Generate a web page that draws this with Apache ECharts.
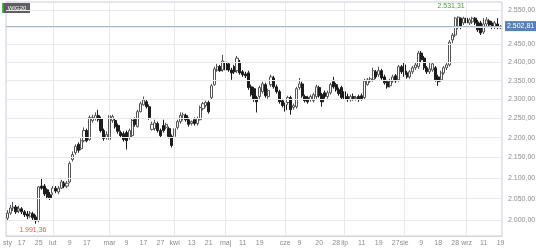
<!DOCTYPE html>
<html>
<head>
<meta charset="utf-8">
<script src="https://cdn.jsdelivr.net/npm/echarts@6/dist/echarts.min.js"></script>
<style>
html,body{margin:0;padding:0;background:#fff;}
#c{width:536px;height:248px;}
</style>
</head>
<body>
<div id="c"></div>
<script>
// Trading days (2023) per month
const jan = [10,11,12,13,16,17,18,19,20,23,24,25,26,27,30,31];
const feb = [1,2,3,6,7,8,9,10,13,14,15,16,17,20,21,22,23,24,27,28];
const mar = [1,2,3,6,7,8,9,10,13,14,15,16,17,20,21,22,23,24,27,28,29,30,31];
const apr = [3,4,5,6,11,12,13,14,17,18,19,20,21,24,25,26,27,28];
const may = [2,4,5,8,9,10,11,12,15,16,17,18,19,22,23,24,25,26,29,30,31];
const jun = [1,2,5,6,7,9,12,13,14,15,16,19,20,21,22,23,26,27,28,29,30];
const jul = [3,4,5,6,7,10,11,12,13,14,17,18,19,20,21,24,25,26,27,28,31];
const aug = [1,2,3,4,7,8,9,10,11,14,16,17,18,21,22,23,24,25,28,29,30,31];
const sep = [1,4,5,6,7,8,11,12,13,14,15,18,19];
const pad = n => (n < 10 ? '0' : '') + n;
const categories = [].concat(
  jan.map(d => '2023-01-' + pad(d)), feb.map(d => '2023-02-' + pad(d)),
  mar.map(d => '2023-03-' + pad(d)), apr.map(d => '2023-04-' + pad(d)),
  may.map(d => '2023-05-' + pad(d)), jun.map(d => '2023-06-' + pad(d)),
  jul.map(d => '2023-07-' + pad(d)), aug.map(d => '2023-08-' + pad(d)),
  sep.map(d => '2023-09-' + pad(d)));

const tickLabels = {
  '2023-01-10':'sty','2023-01-17':'17','2023-01-25':'25',
  '2023-02-01':'lut','2023-02-09':'9','2023-02-17':'17',
  '2023-03-01':'mar','2023-03-09':'9','2023-03-17':'17','2023-03-27':'27',
  '2023-04-03':'kwi','2023-04-13':'13','2023-04-21':'21',
  '2023-05-02':'maj','2023-05-11':'11','2023-05-19':'19',
  '2023-06-01':'cze','2023-06-09':'9','2023-06-20':'20','2023-06-28':'28',
  '2023-07-03':'lip','2023-07-11':'11','2023-07-19':'19','2023-07-27':'27',
  '2023-08-01':'sie','2023-08-09':'9','2023-08-18':'18','2023-08-28':'28',
  '2023-09-01':'wrz','2023-09-11':'11','2023-09-19':'19'
};
const monthStarts = ['2023-02-01','2023-03-01','2023-04-03','2023-05-02','2023-06-01','2023-07-03','2023-08-01','2023-09-01'];
const yTicks = [2000,2050,2100,2150,2200,2250,2300,2350,2400,2450,2500,2550];

const opens = [2004,2016,2028,2030,2021,2026,2019,2014,2009,2014,2007,1998,2080,2080,2071,2059,2063,2075,2066,2075,
2087,2080,2090,2145,2162,2183,2172,2192,2218,2195,2244,2249,2257,2249,2218,2200,2195,2244,2244,2231,
2213,2210,2213,2200,2205,2246,2228,2267,2285,2293,2280,2221,2223,2236,2218,2231,2226,2223,2203,2203,
2226,2241,2249,2257,2246,2236,2246,2236,2246,2275,2283,2291,2304,2339,2379,2388,2379,2401,2396,2379,
2388,2377,2401,2374,2368,2371,2333,2328,2304,2307,2320,2339,2307,2339,2357,2333,2320,2296,2285,2291,
2304,2278,2280,2331,2341,2307,2304,2299,2296,2307,2331,2312,2317,2307,2317,2347,2339,2325,2331,2320,
2307,2299,2307,2301,2307,2309,2304,2339,2349,2352,2374,2366,2377,2360,2347,2336,2349,2363,2352,2388,
2393,2371,2360,2374,2385,2388,2426,2412,2385,2374,2379,2385,2360,2352,2371,2385,2393,2463,2477,2500,
2526,2512,2526,2512,2515,2526,2515,2512,2486,2509,2518,2512,2500,2509,2498];
const closes = [2016,2028,2030,2019,2026,2019,2012,2009,2016,2005,1998,2078,2075,2061,2054,2052,2075,2068,2075,2090,
2080,2087,2135,2157,2178,2168,2192,2218,2192,2252,2252,2257,2246,2218,2198,2208,2257,2254,2228,2216,
2205,2195,2192,2218,2244,2234,2267,2288,2298,2280,2252,2234,2238,2218,2205,2218,2234,2203,2180,2223,
2241,2257,2259,2246,2234,2241,2236,2249,2278,2288,2291,2267,2336,2382,2388,2377,2404,2379,2379,2371,
2374,2412,2371,2366,2363,2331,2312,2299,2293,2331,2341,2309,2323,2360,2333,2320,2293,2283,2272,2304,
2272,2283,2328,2341,2309,2296,2293,2307,2312,2333,2309,2293,2307,2317,2339,2333,2325,2315,2304,2299,
2299,2307,2301,2304,2299,2301,2349,2352,2355,2377,2360,2377,2357,2344,2333,2349,2360,2349,2388,2374,
2366,2360,2374,2385,2393,2426,2407,2385,2374,2382,2396,2352,2347,2371,2385,2393,2457,2477,2526,2529,
2503,2526,2512,2521,2526,2512,2492,2483,2509,2521,2506,2500,2512,2500,2502.81];
const lows = [1998,2012,2021,2014,2016,2014,2007,2002,2005,2000,1991.36,1995,2071,2056,2049,2047,2059,2063,2061,2073,
2075,2075,2087,2140,2157,2162,2168,2188,2188,2192,2238,2244,2241,2213,2192,2195,2192,2238,2223,2210,
2200,2190,2170,2195,2200,2228,2226,2265,2283,2275,2246,2218,2218,2213,2200,2213,2221,2198,2175,2198,
2221,2236,2244,2241,2228,2231,2231,2231,2244,2270,2278,2262,2298,2336,2374,2374,2374,2374,2374,2352,
2368,2371,2366,2360,2357,2325,2307,2293,2265,2301,2315,2304,2301,2333,2328,2315,2288,2278,2267,2285,
2259,2272,2275,2325,2304,2291,2288,2293,2291,2301,2304,2280,2301,2301,2312,2328,2320,2309,2299,2293,
2293,2293,2296,2296,2293,2296,2299,2336,2344,2347,2355,2360,2352,2339,2328,2331,2344,2344,2347,2368,
2360,2355,2355,2368,2379,2382,2401,2379,2368,2368,2374,2347,2336,2347,2366,2379,2388,2454,2471,2494,
2494,2506,2506,2506,2509,2506,2486,2477,2480,2503,2500,2494,2494,2494,2494];
const highs = [2023,2035,2042,2035,2033,2030,2023,2021,2021,2019,2012,2080,2100,2085,2075,2066,2080,2080,2080,2095,
2092,2092,2140,2165,2183,2188,2198,2226,2223,2257,2259,2265,2272,2254,2223,2216,2267,2259,2249,2236,
2218,2216,2218,2223,2249,2252,2272,2293,2307,2299,2286,2241,2246,2241,2223,2246,2238,2228,2208,2228,
2246,2265,2265,2262,2252,2244,2252,2254,2283,2293,2296,2296,2341,2388,2396,2393,2421,2407,2401,2385,
2393,2418,2407,2379,2374,2377,2339,2333,2309,2336,2347,2344,2328,2366,2363,2339,2325,2301,2291,2309,
2309,2288,2333,2357,2347,2312,2309,2312,2317,2339,2336,2317,2323,2323,2344,2360,2344,2331,2336,2325,
2315,2312,2315,2309,2312,2315,2355,2357,2360,2385,2379,2388,2382,2366,2352,2355,2366,2368,2393,2393,
2399,2377,2379,2390,2399,2432,2432,2418,2390,2401,2401,2390,2366,2377,2390,2399,2463,2483,2529,2531.31,
2528,2530,2529,2526,2530,2529,2521,2518,2526,2529,2523,2518,2518,2526,2506];

function fmt(v) {
  const parts = v.toFixed(2).split('.');
  const intPart = parts[0].replace(/\B(?=(\d{3})+(?!\d))/g, '.');
  return intPart + ',' + parts[1];
}

const candles = opens.map((o, i) => [o, closes[i], lows[i], highs[i]]);
const maxHigh = Math.max.apply(null, highs);
const minLow = Math.min.apply(null, lows);
const iMax = highs.indexOf(maxHigh);
const iMin = lows.indexOf(minLow);
const lastClose = closes[closes.length - 1];

const gridLines = yTicks.map(t => ({yAxis: t, label: {show: t !== 2500, formatter: fmt(t)}}))
  .concat(monthStarts.map(m => ({xAxis: m, label: {show: false}})));

const chart = echarts.init(document.getElementById('c'), null, {renderer: 'canvas'});
chart.setOption({
  animation: false,
  grid: {left: 1, right: 34, top: 2, bottom: 12, show: true, borderColor: '#c6ccd6', borderWidth: 1},
  xAxis: {
    type: 'category', data: categories, boundaryGap: true,
    axisLine: {show: true, lineStyle: {color: '#d6d6d6'}},
    axisTick: {show: false},
    axisLabel: {
      interval: (i, v) => v in tickLabels,
      formatter: v => tickLabels[v] || '',
      fontSize: 7, color: '#8c8c8c', margin: 4, fontFamily: 'Arial'
    },
    splitLine: {show: false}
  },
  yAxis: {type: 'log', logBase: 10, min: 1963.3, max: 2573.6, show: false},
  series: [
    {
      type: 'line', data: [], z: 1, silent: true,
      markLine: {
        symbol: ['none', 'none'], silent: true, animation: false,
        lineStyle: {color: '#e9e9e9', width: 1, type: 'solid'},
        label: {show: true, position: 'end', distance: 6, fontSize: 7, color: '#8c8c8c', fontFamily: 'Arial'},
        data: gridLines
      }
    },
    {
      type: 'candlestick', data: candles, z: 3, barWidth: 2.6,
      itemStyle: {color: '#ffffff', color0: '#1c1c1c', borderColor: '#555555', borderColor0: '#1c1c1c', borderWidth: 1},
      markLine: {
        symbol: ['none', 'none'], silent: true, animation: false,
        data: [{yAxis: lastClose, lineStyle: {color: '#a9b8cf', width: 1, type: 'solid'},
          label: {show: true, position: 'end', distance: 3, formatter: fmt(lastClose), color: '#ffffff',
            backgroundColor: '#5681b9', padding: [2, 2, 1, 2], fontSize: 7, fontFamily: 'Arial'}}]
      },
      markPoint: {
        symbol: 'circle', symbolSize: 0, silent: true, animation: false,
        label: {show: true, position: 'inside', fontSize: 7, fontFamily: 'Arial'},
        data: [
          {coord: [categories[iMax], maxHigh], label: {formatter: fmt(maxHigh), color: '#4f9a3c', offset: [-7, -10]}},
          {coord: [categories[iMin], minLow], label: {formatter: fmt(minLow), color: '#e05a5f', offset: [-3, 6]}}
        ]
      }
    }
  ],
  graphic: [
    {type: 'group', left: 2, top: 3, children: [
      {type: 'rect', shape: {x: 0, y: 0, width: 28, height: 10}, style: {fill: '#5f5f5f'}},
      {type: 'rect', shape: {x: 0, y: 0, width: 1.5, height: 10}, style: {fill: '#3fc43f'}},
      {type: 'text', x: 15, y: 5, style: {text: 'WIG20', fill: '#ffffff', font: '6px Arial', align: 'center', verticalAlign: 'middle'}}
    ]}
  ]
});
</script>
</body>
</html>
